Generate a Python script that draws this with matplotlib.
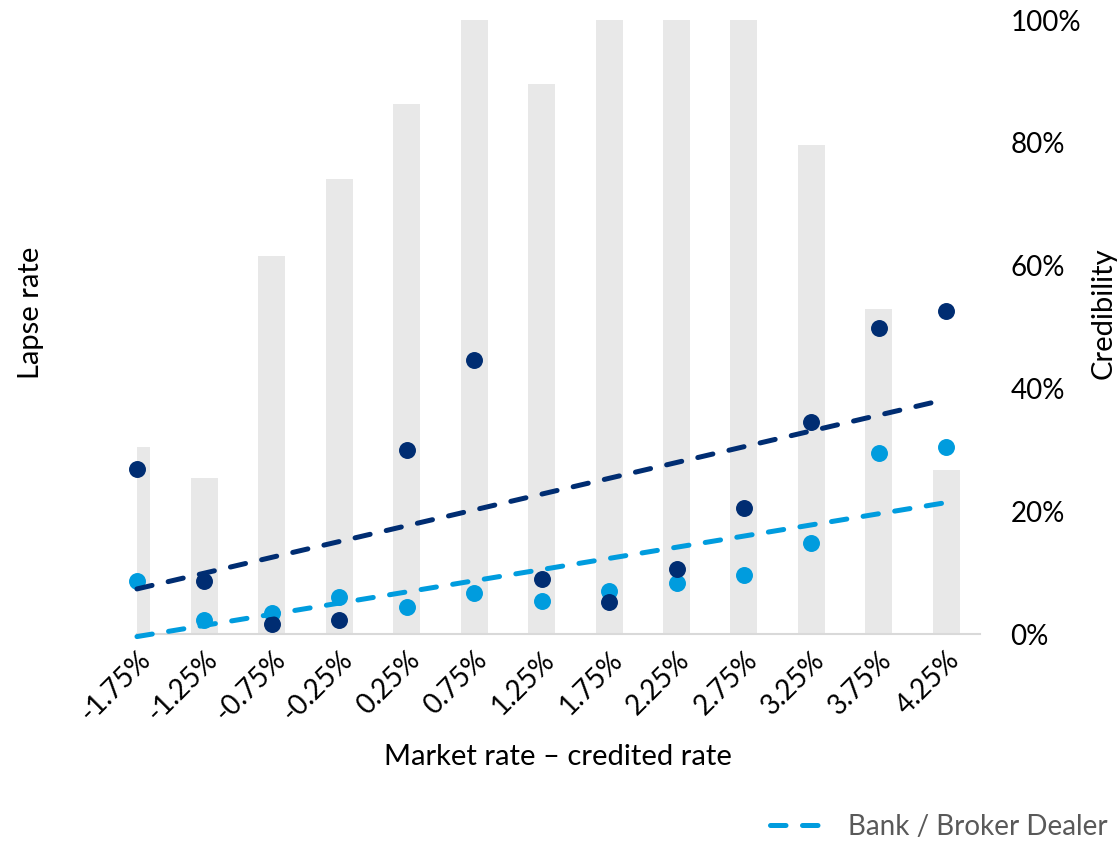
import numpy as np
import matplotlib
matplotlib.use("Agg")
import matplotlib.pyplot as plt
from matplotlib.lines import Line2D
from matplotlib.ticker import PercentFormatter

plt.rcParams["font.family"] = ["Lato", "DejaVu Sans"]

# spread buckets (market rate minus credited rate)
spread_labels = ["-1.75%", "-1.25%", "-0.75%", "-0.25%", "0.25%", "0.75%", "1.25%",
                 "1.75%", "2.25%", "2.75%", "3.25%", "3.75%", "4.25%"]

# credibility of each bucket (bars, right axis)
credibility = [0.305, 0.254, 0.616, 0.741, 0.863, 1.00, 0.896,
               1.00, 1.00, 1.00, 0.796, 0.529, 0.267]

# observed lapse rates (points, left axis)
lapse_other = [0.0537, 0.0173, 0.0033, 0.0046, 0.0599, 0.0893, 0.0179,
               0.0104, 0.0212, 0.0410, 0.0691, 0.0997, 0.1052]
lapse_bank = [0.0173, 0.0046, 0.0068, 0.0121, 0.0088, 0.0134, 0.0107,
              0.0140, 0.0166, 0.0192, 0.0296, 0.0590, 0.0609]

navy = "#002D72"
blue = "#009CDE"
bar_grey = "#E8E8E8"
dash = (0, (3.1, 3.3))

x = np.arange(len(spread_labels))

fig = plt.figure(figsize=(11.19, 8.42), dpi=100)
ax2 = fig.add_axes([0.1224, 0.247, 0.7534, 0.729])   # credibility (right)
ax = ax2.twinx()                                      # lapse rate (left)

ax2.bar(x, credibility, width=0.4, color=bar_grey, zorder=1)
ax2.set_ylim(0, 1)
ax2.set_xlim(0, 12.5)
ax2.yaxis.tick_right()
ax2.yaxis.set_major_formatter(PercentFormatter(1.0, decimals=0))
ax2.set_yticks([0, 0.2, 0.4, 0.6, 0.8, 1.0])
ax2.tick_params(axis="y", length=0, pad=22, labelsize=20)

ax2.set_xticks(x)
ax2.set_xticklabels(spread_labels, rotation=45, ha="right", va="top",
                    rotation_mode="anchor", fontsize=20)
ax2.tick_params(axis="x", length=0, pad=9)

for s in ["top", "left", "right"]:
    ax2.spines[s].set_visible(False)
ax2.spines["bottom"].set_color("#D9D9D9")
ax2.spines["bottom"].set_linewidth(1.5)

# lapse points
ax.scatter(x, lapse_bank, s=125, color=blue, zorder=3, clip_on=False)
ax.scatter(x, lapse_other, s=125, color=navy, zorder=4, clip_on=False)

# linear trend lines
for ys, c in [(lapse_bank, blue), (lapse_other, navy)]:
    k, b = np.polyfit(x, ys, 1)
    ax.plot(x, k * x + b, color=c, lw=3.6, linestyle=dash,
            dash_capstyle="round", zorder=5, clip_on=False)

ax.set_ylim(0, 0.2)
ax.set_yticks([])
for s in ax.spines.values():
    s.set_visible(False)

# axis titles
fig.text(0.028, 0.629, "Lapse rate", rotation=90, ha="center", va="center", fontsize=21)
fig.text(0.986, 0.628, "Credibility", rotation=90, ha="center", va="center", fontsize=21)
fig.text(0.4987, 0.101, "Market rate \u2013 credited rate", ha="center", va="center",
         fontsize=21)

handle = Line2D([], [], color=blue, lw=3.6, linestyle=dash, dash_capstyle="round")
fig.legend([handle], ["Bank / Broker Dealer"], loc="center right",
           bbox_to_anchor=(1.012, 0.018), frameon=False, fontsize=20,
           labelcolor="#595959", handlelength=2.3, handletextpad=0.5)

fig.savefig("out.png", dpi=100)
